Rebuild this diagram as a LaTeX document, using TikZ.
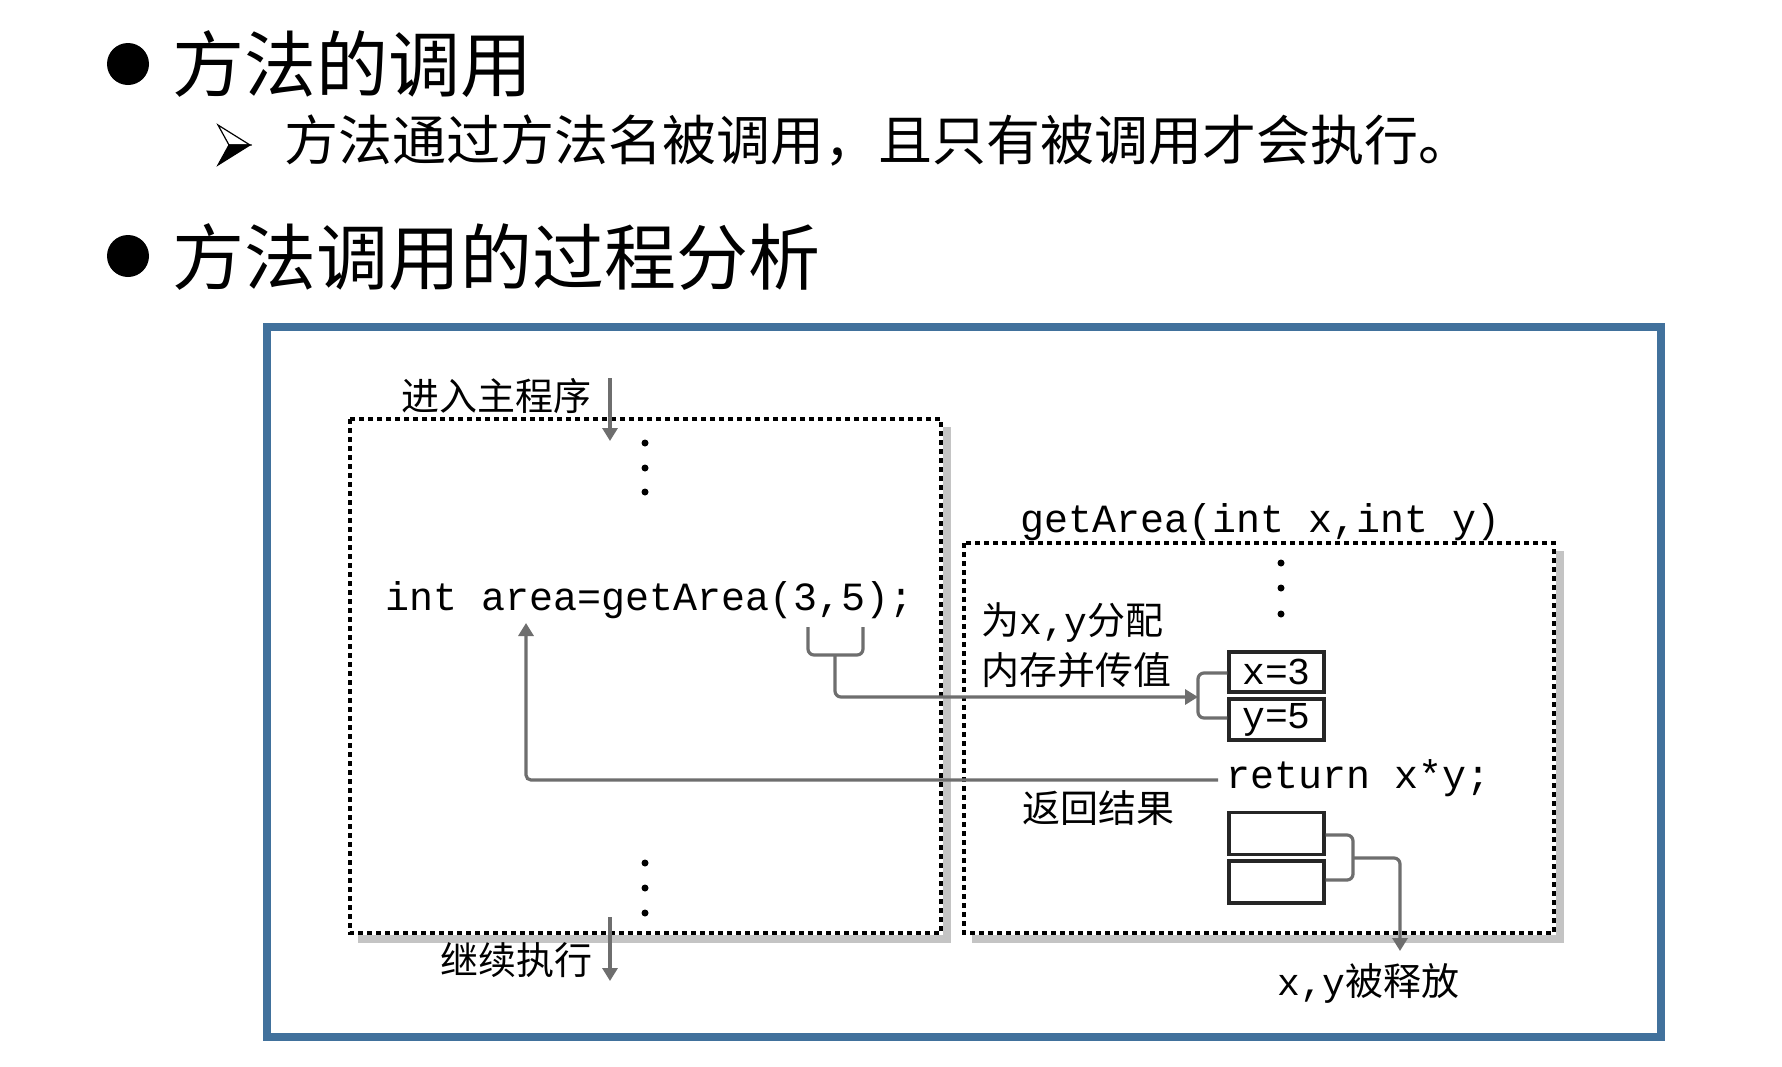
\documentclass[tikz,border=0pt]{standalone}
\usepackage{fontspec}
\setmonofont{Liberation Mono}
\newfontfamily\cjk{Noto Sans CJK SC}
\usetikzlibrary{arrows.meta}
\definecolor{frameblue}{RGB}{65,113,156}
\definecolor{conngray}{RGB}{110,110,110}
\definecolor{shadowgray}{RGB}{196,196,196}
\tikzset{
  conn/.style={draw=conngray, line width=3.2pt},
  tipend/.style={-{Triangle[length=13pt,width=15pt]}},
  dotbox/.style={draw=black, line width=3.8pt, dash pattern=on 5pt off 4pt},
  shadowband/.style={fill=shadowgray, draw=none},
  membox/.style={draw=black!85, line width=3.2pt, minimum width=95pt, inner sep=0pt},
  lbl/.style={inner sep=0pt, anchor=base west, font=\cjk\fontsize{38pt}{44pt}\selectfont},
  code/.style={inner sep=0pt, anchor=base west, font=\ttfamily\fontsize{40pt}{46pt}\selectfont},
  boxtxt/.style={inner sep=0pt, font=\ttfamily\fontsize{38pt}{44pt}\selectfont},
  titlebig/.style={inner sep=0pt, anchor=base west, font=\cjk\fontsize{72pt}{80pt}\selectfont},
  titlesub/.style={inner sep=0pt, anchor=base west, font=\cjk\fontsize{54pt}{60pt}\selectfont}
}
\begin{document}
\begin{tikzpicture}[x=1pt,y=-1pt]
\useasboundingbox[fill=white] (0,0) rectangle (1782,1066);

% ---- headings ----
\fill (128,64) circle[radius=21pt];
\node[titlebig] (t1) at (172,91) {方法的调用};
\filldraw[fill=white,draw=black,line width=1.2pt] (218,125) -- (250,145) -- (229,145) -- cycle;
\filldraw[fill=black,draw=black,line width=1.2pt] (218,165) -- (250,145) -- (229,145) -- cycle;
\node[titlesub] (t2) at (284,160) {方法通过方法名被调用，且只有被调用才会执行。};
\fill (128,256) circle[radius=21pt];
\node[titlebig] (t3) at (172,284) {方法调用的过程分析};

% ---- blue frame ----
\draw[frameblue, line width=8pt] (267,327) rectangle (1661,1037);

% ---- shadows ----
\fill[shadowband] (943,427) rectangle (951,943);
\fill[shadowband] (358,935) rectangle (951,943);
\fill[shadowband] (1556,551) rectangle (1564,943);
\fill[shadowband] (972,935) rectangle (1564,943);

% ---- dotted boxes ----
\draw[dotbox] (350,419) rectangle (941,933);
\draw[dotbox] (964,543) rectangle (1554,933);

% ---- dots ----
\foreach \yy in {443,468,492,863,888,913} \fill (645,\yy) circle[radius=3.5pt];
\foreach \yy in {563,588,614} \fill (1281,\yy) circle[radius=3.5pt];

% ---- texts ----
\node[lbl] (enter) at (401,410) {进入主程序};
\node[lbl] (cont) at (440,974) {继续执行};
\node[code] (call) at (385,610) {int area=getArea(3,5);};
\node[code] (sig) at (1020,532) {getArea(int x,int y)};
\node[lbl] (alloc1) at (981,634) {为{\ttfamily x,y}分配};
\node[lbl] (alloc2) at (981,684) {内存并传值};
\node[code] (ret) at (1226,788) {return x*y;};
\node[lbl] (res) at (1022,822) {返回结果};
\node[lbl] (free) at (1277,995) {{\ttfamily x,y}被释放};

% ---- memory boxes ----
\node[membox, minimum height=40pt] (bx) at (1276.5,672) {};
\node[boxtxt] at (bx) {x=3};
\node[membox, minimum height=41pt] (by) at (1276.5,719.5) {};
\node[boxtxt] at (by) {y=5};
\node[membox, minimum height=42pt] (e1) at (1276.5,833.5) {};
\node[membox, minimum height=42pt] (e2) at (1276.5,882) {};

% ---- connectors ----
\coordinate (in1) at (610,378);
\coordinate (in2) at (610,441);
\draw[conn,tipend] (in1) -- (in2);
\coordinate (out1) at (610,917);
\coordinate (out2) at (610,981);
\draw[conn,tipend] (out1) -- (out2);

% brace under (3,5)
\draw[conn, rounded corners=6pt] (808,627) -- (808,655) -- (863,655) -- (863,627);
\coordinate (br) at (835,655);
\coordinate (brk) at (1198,697);
\draw[conn, tipend, rounded corners=6pt] (br) -- (835,697) -- (brk);
\draw[conn, rounded corners=6pt] (bx.west |- 0,673) -- (1198,673) -- (1198,718) -- (by.west |- 0,718);

% return arrow
\coordinate (r1) at (1218,780);
\coordinate (r2) at (526,623);
\draw[conn, tipend, rounded corners=5pt] (r1) -- (526,780) -- (r2);

% release
\draw[conn, rounded corners=6pt] (e1.east |- 0,835) -- (1353,835) -- (1353,880) -- (e2.east |- 0,880);
\coordinate (rel) at (1400,951);
\draw[conn, tipend, rounded corners=6pt] (1353,858) -- (1400,858) -- (rel);
\end{tikzpicture}
\end{document}
